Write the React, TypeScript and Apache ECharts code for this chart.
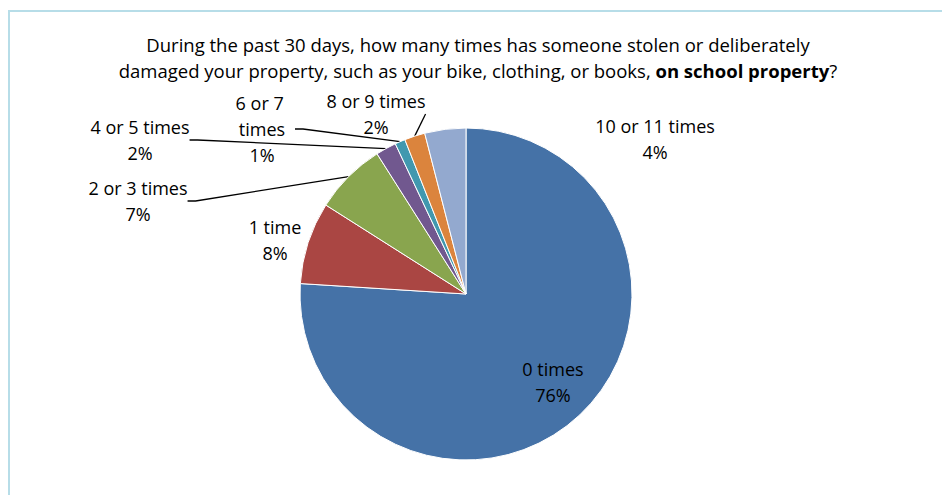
import React, { useEffect, useRef } from 'react';
import * as echarts from 'echarts';

const categories = ['0 times', '1 time', '2 or 3 times', '4 or 5 times', '6 or 7 times', '8 or 9 times', '10 or 11 times'];
const percents = [76, 8, 7, 2, 1, 2, 4];

const titleLine1 = 'During the past 30 days, how many times has someone stolen or deliberately';
const titleLine2a = 'damaged your property, such as your bike, clothing, or books, ';
const titleBold = 'on school property';
const titleEnd = '?';

const colors = ['#4572A7', '#AA4643', '#89A54E', '#71588F', '#4198AF', '#DB843D', '#93A9CF'];
const labelCenters: [number, number][] = [
  [553, 382],
  [275, 240],
  [138, 201],
  [140, 140],
  [262, 129],
  [376, 114],
  [655, 139],
];
const withLeader = [false, false, true, true, true, true, false];
const FONT = '"Open Sans", "Noto Sans", sans-serif';

export default function App() {
  const ref = useRef<HTMLDivElement>(null);
  useEffect(() => {
    if (!ref.current) return;
    const chart = echarts.init(ref.current, undefined, { renderer: 'svg' });
    const data = categories.map((name, i) => ({
      name,
      value: percents[i],
      itemStyle: { color: colors[i] },
      label: i === 4 ? { width: 66, overflow: 'break' } : {},
      labelLine: { show: withLeader[i] },
    }));
    chart.setOption({
      animation: false,
      graphic: [
        {
          type: 'polyline',
          shape: { points: [[9, 495], [9, 11], [942, 11]] },
          style: { stroke: '#B7DDE8', lineWidth: 2, fill: 'none' },
          silent: true,
        },
        {
          type: 'text',
          x: 478,
          y: 31,
          style: {
            text: titleLine1 + '\n' + titleLine2a + '{b|' + titleBold + '}' + titleEnd,
            align: 'center',
            verticalAlign: 'top',
            fontFamily: FONT,
            fontSize: 18.5,
            lineHeight: 26,
            fill: '#000',
            rich: {
              b: { fontFamily: FONT, fontSize: 18.5, fontWeight: 'bold', lineHeight: 26, fill: '#000' },
            },
          },
        },
      ],
      series: [
        {
          type: 'pie',
          center: [466, 294],
          radius: 166,
          startAngle: 90,
          clockwise: true,
          avoidLabelOverlap: false,
          itemStyle: { borderColor: '#ffffff', borderWidth: 1 },
          label: {
            show: true,
            position: 'outside',
            formatter: (p: any) => `${p.name}\n${p.value}%`,
            fontFamily: FONT,
            fontSize: 18,
            lineHeight: 26,
            color: '#000',
            align: 'center',
          },
          labelLine: {
            show: true,
            length: 10,
            length2: 8,
            lineStyle: { color: '#000', width: 1.3 },
          },
          labelLayout: (params: any) => {
            const c = labelCenters[params.dataIndex];
            return { x: c[0], y: c[1], align: 'center', verticalAlign: 'middle' };
          },
          emphasis: { disabled: true },
          data,
        },
      ],
    });
    return () => chart.dispose();
  }, []);
  return <div ref={ref} style={{ position: 'absolute', left: 0, top: 0, width: 942, height: 495 }} />;
}
